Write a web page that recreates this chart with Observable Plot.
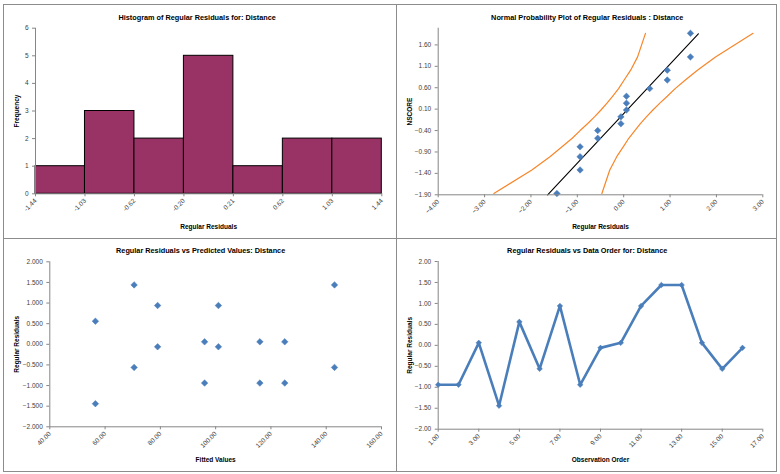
<!DOCTYPE html>
<html>
<head>
<meta charset="utf-8">
<script src="https://cdn.jsdelivr.net/npm/d3@7"></script>
<script src="https://cdn.jsdelivr.net/npm/@observablehq/plot@0.6"></script>
<style>
  html, body { margin: 0; padding: 0; background: #fff; }
  #root { position: relative; width: 780px; height: 474px; overflow: hidden; font-family: "Liberation Sans", Arial, sans-serif; }
  #root svg { position: absolute; overflow: visible; background: transparent; }
  .bl { position: absolute; background: #8c8c8c; }
  [aria-label="x-axis label"] text, [aria-label="y-axis label"] text, [aria-label="x-axis label"], [aria-label="y-axis label"] { font-weight: bold; fill: #000; }
</style>
</head>
<body>
<div id="root">
  <div class="bl" style="left:3px;top:4px;width:774px;height:1px"></div>
  <div class="bl" style="left:3px;top:471px;width:774px;height:1px"></div>
  <div class="bl" style="left:3px;top:4px;width:1px;height:468px"></div>
  <div class="bl" style="left:776px;top:4px;width:1px;height:468px"></div>
  <div class="bl" style="left:396px;top:4px;width:1px;height:468px"></div>
  <div class="bl" style="left:3px;top:238px;width:774px;height:1px"></div>
</div>
<script>
// ---------- data ----------
// Histogram
const binLabels = ["-1.44", "-1.03", "-0.62", "-0.20", "0.21", "0.62", "1.03", "1.44"];
const binCounts = [1, 3, 2, 5, 1, 2, 2];

// Normal probability plot
const sortedResiduals = [-1.44, -0.94, -0.94, -0.94, -0.56, -0.56, -0.06, -0.06, 0.06, 0.06, 0.06, 0.56, 0.94, 0.94, 1.44, 1.44];
const nscores = [-1.87, -1.32, -1.01, -0.78, -0.58, -0.40, -0.24, -0.08, 0.08, 0.24, 0.40, 0.58, 0.78, 1.01, 1.32, 1.87];
const lowerBand = [-2.80, -1.98, -1.59, -1.33, -1.11, -0.94, -0.78, -0.63, -0.49, -0.36, -0.24, -0.11, 0.01, 0.15, 0.30, 0.47];
const upperBand = [-0.47, -0.30, -0.15, -0.01, 0.11, 0.24, 0.36, 0.49, 0.63, 0.78, 0.94, 1.11, 1.33, 1.59, 1.98, 2.79];
const fitLineX = [-1.64, 1.61];
const fitLineY = [-1.90, 1.86];
const nscoreTicks = [-1.90, -1.40, -0.90, -0.40, 0.10, 0.60, 1.10, 1.60];

// Residuals vs predicted values
const fittedValues = [56.5, 56.5, 70.5, 70.5, 79, 79, 96, 96, 101, 101, 116, 116, 125, 125, 143, 143];
const fittedResiduals = [0.56, -1.44, 1.44, -0.56, 0.94, -0.06, 0.06, -0.94, 0.94, -0.06, 0.06, -0.94, 0.06, -0.94, 1.44, -0.56];

// Residuals vs data order
const observationOrder = [1, 2, 3, 4, 5, 6, 7, 8, 9, 10, 11, 12, 13, 14, 15, 16];
const orderResiduals = [-0.94, -0.94, 0.06, -1.44, 0.56, -0.56, 0.94, -0.94, -0.06, 0.06, 0.94, 1.44, 1.44, 0.06, -0.56, -0.06];

// ---------- styles ----------
const AXIS = "#868686";
const TICKTXT = "#404040";
const BLUE = "#4A7EBB";
const ORANGE = "#F7862A";
const MAROON = "#993366";
const FS = 6.5;

const root = document.getElementById("root");
function place(svg, left, top) {
  svg.style.left = left + "px";
  svg.style.top = top + "px";
  root.appendChild(svg);
}
function title(text, dx, dy) {
  return Plot.text([text], {frameAnchor: "top", text: d => d, dx, dy, fontWeight: "bold", fontSize: 7.3, fill: "#000"});
}
function diamonds(data, x, y, r) {
  return Plot.dot(data, {x, y, symbol: "square", rotate: 45, r, fill: BLUE, stroke: BLUE, strokeWidth: 0.5});
}
const common = {style: {fontFamily: "Liberation Sans, Arial, sans-serif", fontSize: FS + "px", color: TICKTXT, background: "transparent", overflow: "visible"}};
const ax = {tickSize: 3, stroke: AXIS, fill: TICKTXT, labelAnchor: "center", labelArrow: "none"};

// ---------- Panel 1: Histogram ----------
const histData = binCounts.map((c, i) => ({x1: i, x2: i + 1, y: c}));
const p1 = Plot.plot({
  ...common,
  width: 396, height: 238,
  marginLeft: 35, marginRight: 14.7, marginTop: 27.7, marginBottom: 44.7,
  x: {domain: [0, 7]},
  y: {domain: [0, 6]},
  marks: [
    Plot.rectY(histData, {x1: "x1", x2: "x2", y: "y", fill: MAROON, stroke: "#000", strokeWidth: 1, inset: 0}),
    Plot.ruleX([0], {stroke: AXIS}),
    Plot.ruleY([0], {stroke: AXIS}),
    Plot.axisX({...ax, ticks: d3.range(binLabels.length), tickFormat: i => binLabels[i], tickPadding: 3, tickRotate: -45,
      label: "Regular Residuals", labelOffset: 35}),
    Plot.axisY({...ax, ticks: d3.range(0, 7), tickFormat: d => String(d), tickPadding: 4,
      label: "Frequency", labelOffset: 21}),
    title("Histogram of Regular Residuals for: Distance", -11.5, -13.7)
  ]
});
place(p1, 0, 0);

// ---------- Panel 2: Normal probability plot ----------
const npData = sortedResiduals.map((r, i) => ({r, ns: nscores[i]}));
const bandData = nscores.map((ns, i) => ({ns, lo: lowerBand[i], hi: upperBand[i]}));
const fitData = fitLineX.map((x, i) => ({x, y: fitLineY[i]}));
const p2 = Plot.plot({
  ...common,
  width: 384, height: 238,
  marginLeft: 41.7, marginRight: 17.7, marginTop: 27.7, marginBottom: 43.7,
  x: {domain: [-4, 3]},
  y: {domain: [-1.90, 1.99]},
  marks: [
    Plot.line(bandData, {x: "lo", y: "ns", stroke: ORANGE, strokeWidth: 1.2, curve: "linear"}),
    Plot.line(bandData, {x: "hi", y: "ns", stroke: ORANGE, strokeWidth: 1.2, curve: "linear"}),
    Plot.line(fitData, {x: "x", y: "y", stroke: "#000", strokeWidth: 1.1}),
    diamonds(npData, "r", "ns", 2.6),
    Plot.ruleX([-4], {stroke: AXIS}),
    Plot.ruleY([-1.90], {stroke: AXIS}),
    Plot.axisX({...ax, ticks: d3.range(-4, 4), tickFormat: d3.format(".2f"), tickPadding: 3, tickRotate: -45,
      label: "Regular Residuals", labelOffset: 34}),
    Plot.axisY({...ax, ticks: nscoreTicks, tickFormat: d3.format(".2f"), tickPadding: 4,
      label: "NSCORE", labelOffset: 31}),
    title("Normal Probability Plot of Regular Residuals : Distance", -13.3, -13.7)
  ]
});
place(p2, 396, 0);

// ---------- Panel 3: Residuals vs predicted ----------
const fvData = fittedValues.map((f, i) => ({f, r: fittedResiduals[i]}));
const p3 = Plot.plot({
  ...common,
  width: 396, height: 236,
  marginLeft: 49.3, marginRight: 15, marginTop: 23.3, marginBottom: 47.7,
  x: {domain: [40, 160]},
  y: {domain: [-2, 2]},
  marks: [
    diamonds(fvData, "f", "r", 2.6),
    Plot.ruleX([40], {stroke: AXIS}),
    Plot.ruleY([-2], {stroke: AXIS}),
    Plot.axisX({...ax, ticks: d3.range(40, 161, 20), tickFormat: d3.format(".2f"), tickPadding: 3, tickRotate: -45,
      label: "Fitted Values", labelOffset: 35}),
    Plot.axisY({...ax, ticks: d3.range(-2, 2.01, 0.5), tickFormat: d3.format(".3f"), tickPadding: 4,
      label: "Regular Residuals", labelOffset: 35}),
    title("Regular Residuals vs Predicted Values: Distance", -15, -13.6)
  ]
});
place(p3, 0, 238);

// ---------- Panel 4: Residuals vs order ----------
const orderData = observationOrder.map((o, i) => ({o, r: orderResiduals[i]}));
const p4 = Plot.plot({
  ...common,
  width: 384, height: 236,
  marginLeft: 41.7, marginRight: 17.7, marginTop: 23, marginBottom: 45.3,
  x: {domain: [1, 17]},
  y: {domain: [-2, 2]},
  marks: [
    Plot.ruleX([1], {stroke: AXIS}),
    Plot.ruleY([-2], {stroke: AXIS}),
    Plot.line(orderData, {x: "o", y: "r", stroke: BLUE, strokeWidth: 2.6, strokeLinejoin: "round"}),
    diamonds(orderData, "o", "r", 2.2),
    Plot.axisX({...ax, ticks: d3.range(1, 18, 2), tickFormat: d3.format(".2f"), tickPadding: 3, tickRotate: -45,
      label: "Observation Order", labelOffset: 33}),
    Plot.axisY({...ax, ticks: d3.range(-2, 2.01, 0.5), tickFormat: d3.format(".2f"), tickPadding: 4,
      label: "Regular Residuals", labelOffset: 31}),
    title("Regular Residuals vs Data Order for: Distance", -13.3, -13.7)
  ]
});
place(p4, 396, 238);
</script>
</body>
</html>
